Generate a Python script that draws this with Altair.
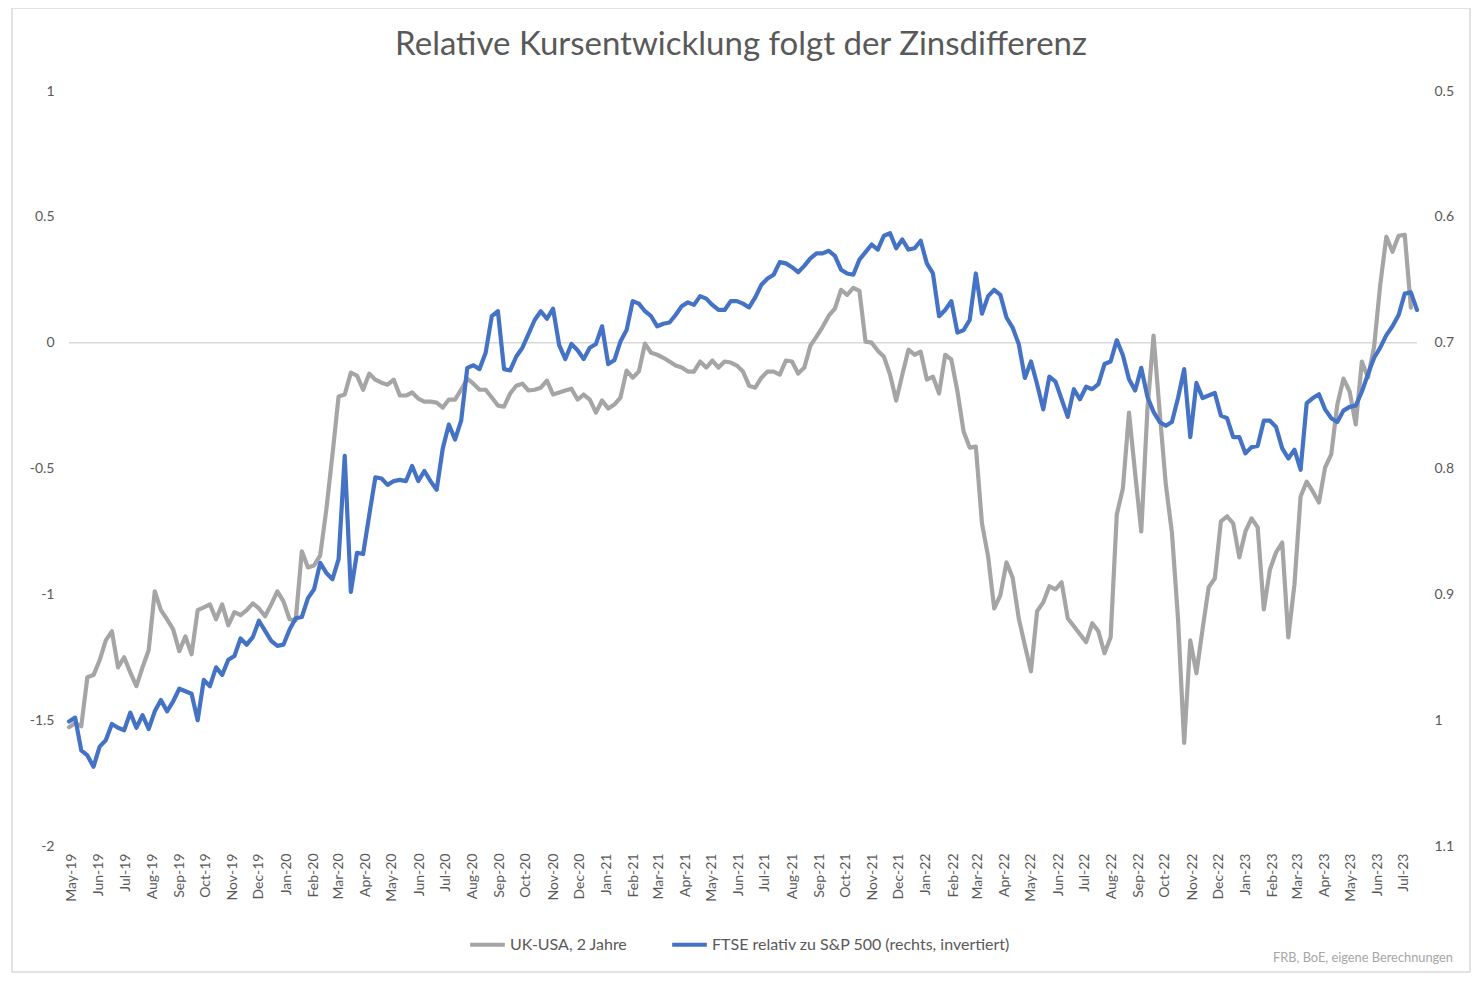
import altair as alt
import pandas as pd

# ---------------- data ----------------
START = "2019-04-28"
N_WEEKS = 221
dates = pd.date_range(START, periods=N_WEEKS, freq="7D").strftime("%Y-%m-%d").tolist()

SERIES_GRAY = "UK-USA, 2 Jahre"
SERIES_BLUE = "FTSE relativ zu S&P 500 (rechts, invertiert)"

# UK-USA 2y yield differential (left axis)
uk_usa_2y = [
    -1.528, -1.512, -1.524, -1.329, -1.321, -1.262, -1.183, -1.147, -1.290, -1.250,
    -1.310, -1.365, -1.290, -1.222, -0.988, -1.063, -1.099, -1.139, -1.226, -1.167,
    -1.238, -1.063, -1.052, -1.040, -1.099, -1.040, -1.123, -1.071, -1.083, -1.063,
    -1.036, -1.056, -1.087, -1.040, -0.988, -1.028, -1.099, -1.103, -0.829, -0.893,
    -0.885, -0.845, -0.663, -0.444, -0.214, -0.206, -0.119, -0.131, -0.187, -0.123,
    -0.147, -0.159, -0.167, -0.147, -0.210, -0.210, -0.198, -0.222, -0.234, -0.234,
    -0.238, -0.258, -0.226, -0.226, -0.187, -0.143, -0.163, -0.187, -0.187, -0.218,
    -0.250, -0.254, -0.202, -0.171, -0.163, -0.190, -0.187, -0.179, -0.151, -0.206,
    -0.198, -0.190, -0.183, -0.226, -0.206, -0.226, -0.278, -0.230, -0.262, -0.246,
    -0.218, -0.111, -0.139, -0.115, -0.004, -0.040, -0.048, -0.060, -0.075, -0.091,
    -0.099, -0.115, -0.115, -0.075, -0.099, -0.071, -0.099, -0.075, -0.079, -0.091,
    -0.115, -0.171, -0.179, -0.139, -0.115, -0.115, -0.127, -0.071, -0.075, -0.123,
    -0.099, -0.012, 0.024, 0.063, 0.107, 0.135, 0.210, 0.190, 0.218, 0.206,
    0.004, 0.000, -0.032, -0.056, -0.127, -0.230, -0.127, -0.028, -0.048, -0.036,
    -0.147, -0.135, -0.202, -0.048, -0.067, -0.194, -0.353, -0.417, -0.413, -0.718,
    -0.849, -1.056, -1.004, -0.873, -0.933, -1.095, -1.202, -1.306, -1.067, -1.032,
    -0.968, -0.980, -0.952, -1.095, -1.127, -1.159, -1.190, -1.115, -1.147, -1.234,
    -1.171, -0.683, -0.579, -0.278, -0.520, -0.750, -0.266, 0.028, -0.274, -0.563,
    -0.754, -1.099, -1.590, -1.183, -1.313, -1.139, -0.972, -0.937, -0.710, -0.690,
    -0.718, -0.853, -0.750, -0.698, -0.734, -1.060, -0.901, -0.833, -0.794, -1.171,
    -0.960, -0.611, -0.552, -0.591, -0.635, -0.496, -0.444, -0.246, -0.143, -0.194,
    -0.325, -0.075, -0.139, -0.016, 0.230, 0.421, 0.361, 0.425, 0.429, 0.139,
    None,
]

# FTSE relative to S&P 500 (right axis, inverted)
ftse_rel_sp500 = [
    1.001, 0.998, 1.024, 1.028, 1.037, 1.021, 1.016, 1.003, 1.006, 1.008,
    0.994, 1.006, 0.996, 1.007, 0.993, 0.984, 0.993, 0.985, 0.975, 0.977,
    0.979, 1.000, 0.968, 0.973, 0.958, 0.964, 0.952, 0.949, 0.935, 0.940,
    0.934, 0.921, 0.929, 0.937, 0.941, 0.940, 0.928, 0.919, 0.918, 0.903,
    0.896, 0.875, 0.883, 0.888, 0.872, 0.790, 0.898, 0.867, 0.868, 0.837,
    0.807, 0.808, 0.813, 0.810, 0.809, 0.810, 0.798, 0.810, 0.802, 0.810,
    0.817, 0.784, 0.765, 0.777, 0.762, 0.720, 0.718, 0.721, 0.708, 0.679,
    0.675, 0.721, 0.722, 0.711, 0.704, 0.693, 0.682, 0.675, 0.681, 0.673,
    0.702, 0.713, 0.701, 0.706, 0.713, 0.704, 0.701, 0.687, 0.717, 0.714,
    0.699, 0.690, 0.667, 0.669, 0.675, 0.679, 0.687, 0.685, 0.684, 0.678,
    0.671, 0.668, 0.670, 0.663, 0.665, 0.670, 0.674, 0.674, 0.667, 0.667,
    0.669, 0.672, 0.664, 0.654, 0.649, 0.646, 0.636, 0.637, 0.640, 0.644,
    0.639, 0.633, 0.629, 0.629, 0.627, 0.631, 0.642, 0.645, 0.646, 0.634,
    0.628, 0.622, 0.626, 0.615, 0.613, 0.625, 0.618, 0.626, 0.625, 0.619,
    0.637, 0.645, 0.679, 0.674, 0.667, 0.692, 0.690, 0.682, 0.645, 0.677,
    0.663, 0.658, 0.662, 0.680, 0.688, 0.701, 0.728, 0.715, 0.733, 0.753,
    0.727, 0.731, 0.745, 0.759, 0.737, 0.745, 0.735, 0.737, 0.733, 0.717,
    0.715, 0.698, 0.710, 0.729, 0.738, 0.720, 0.743, 0.755, 0.763, 0.766,
    0.763, 0.744, 0.721, 0.775, 0.732, 0.744, 0.742, 0.740, 0.758, 0.760,
    0.775, 0.775, 0.788, 0.783, 0.782, 0.762, 0.762, 0.767, 0.784, 0.792,
    0.785, 0.801, 0.748, 0.744, 0.741, 0.753, 0.760, 0.763, 0.754, 0.751,
    0.750, 0.739, 0.725, 0.712, 0.704, 0.694, 0.687, 0.678, 0.661, 0.660,
    0.674,
]

left_ticks = [-2, -1.5, -1, -0.5, 0, 0.5, 1]
right_ticks = [0.5, 0.6, 0.7, 0.8, 0.9, 1.0, 1.1]
month_ticks = pd.date_range("2019-05-01", "2023-07-01", freq="MS", tz="UTC")
month_ticks_ms = [int(t.timestamp() * 1000) for t in month_ticks]

TITLE = "Relative Kursentwicklung folgt der Zinsdifferenz"
SOURCE = "FRB, BoE, eigene Berechnungen"

# ---------------- styling ----------------
FONT = "Lato"
TXT = "#595959"
GRAY = "#a5a5a5"
BLUE = "#4472c4"
W, H = 1348, 755

gray_df = pd.DataFrame({"date": dates, "value": uk_usa_2y, "series": SERIES_GRAY}).dropna()
blue_df = pd.DataFrame({"date": dates, "value": ftse_rel_sp500, "series": SERIES_BLUE})

color_scale = alt.Scale(domain=[SERIES_GRAY, SERIES_BLUE], range=[GRAY, BLUE])
legend = alt.Legend(
    title=None, orient="none", legendX=399, legendY=834, direction="horizontal",
    symbolType="stroke", symbolStrokeWidth=4, symbolSize=1200,
    labelFont=FONT, labelFontSize=16, labelColor=TXT, labelLimit=0,
    columnPadding=36, labelOffset=3,
)

x_axis = alt.Axis(
    values=month_ticks_ms, labelExpr="utcFormat(datum.value, '%b-%y')",
    labelAngle=-90, labelPadding=7, domain=False, ticks=False, grid=False,
    labelOverlap=False, labelFlush=False, title=None,
    labelFont=FONT, labelFontSize=14, labelColor=TXT,
)
x_enc = alt.X("date:T", scale=alt.Scale(type="utc", nice=False), axis=x_axis)

zero_rule = alt.Chart(pd.DataFrame({"z": [0]})).mark_rule(color="#d9d9d9", strokeWidth=1.5).encode(
    y=alt.Y("z:Q", scale=alt.Scale(domain=[-2, 1], nice=False, zero=False), axis=None)
)

gray_line = alt.Chart(gray_df).mark_line(strokeWidth=4.2, strokeJoin="round", strokeCap="round").encode(
    x=x_enc,
    y=alt.Y(
        "value:Q",
        scale=alt.Scale(domain=[-2, 1], nice=False, zero=False),
        axis=alt.Axis(
            orient="left", values=left_ticks,
            labelExpr="replace(format(datum.value, '~g'), '\u2212', '-')",
            domain=False, ticks=False, grid=False, labelPadding=15, title=None,
            labelFont=FONT, labelFontSize=14, labelColor=TXT,
        ),
    ),
    color=alt.Color("series:N", scale=color_scale, legend=legend),
)

blue_line = alt.Chart(blue_df).mark_line(strokeWidth=4.2, strokeJoin="round", strokeCap="round").encode(
    x=x_enc,
    y=alt.Y(
        "value:Q",
        scale=alt.Scale(domain=[0.5, 1.1], reverse=True, nice=False, zero=False),
        axis=alt.Axis(
            orient="right", values=right_ticks,
            labelExpr="format(datum.value, '~g')",
            domain=False, ticks=False, grid=False, labelPadding=17, title=None,
            labelFont=FONT, labelFontSize=14, labelColor=TXT,
        ),
    ),
    color=alt.Color("series:N", scale=color_scale, legend=legend),
)

title = alt.Chart(pd.DataFrame({"t": [TITLE]})).mark_text(
    align="center", baseline="middle", font=FONT, fontSize=33, color=TXT
).encode(text="t:N", x=alt.value(672), y=alt.value(-46))

source = alt.Chart(pd.DataFrame({"t": [SOURCE]})).mark_text(
    align="right", baseline="middle", font=FONT, fontSize=12.8, color="#a6a6a6"
).encode(text="t:N", x=alt.value(1384), y=alt.value(867))

frame = alt.Chart(pd.DataFrame({"a": [0]})).mark_rect(
    fillOpacity=0, stroke="#d9d9d9", strokeWidth=1.5
).encode(x=alt.value(-57), x2=alt.value(1401), y=alt.value(-83), y2=alt.value(881))

chart = (
    alt.layer(frame, zero_rule, gray_line, blue_line, title, source)
    .resolve_scale(y="independent")
    .properties(
        width=W, height=H,
        padding={"left": 61, "top": 83, "right": 55, "bottom": 128},
        autosize=alt.AutoSizeParams(type="none"),
        background="white",
    )
    .configure_view(strokeWidth=0)
)

chart.save("out.html", embed_options={"renderer": "svg", "actions": False})
